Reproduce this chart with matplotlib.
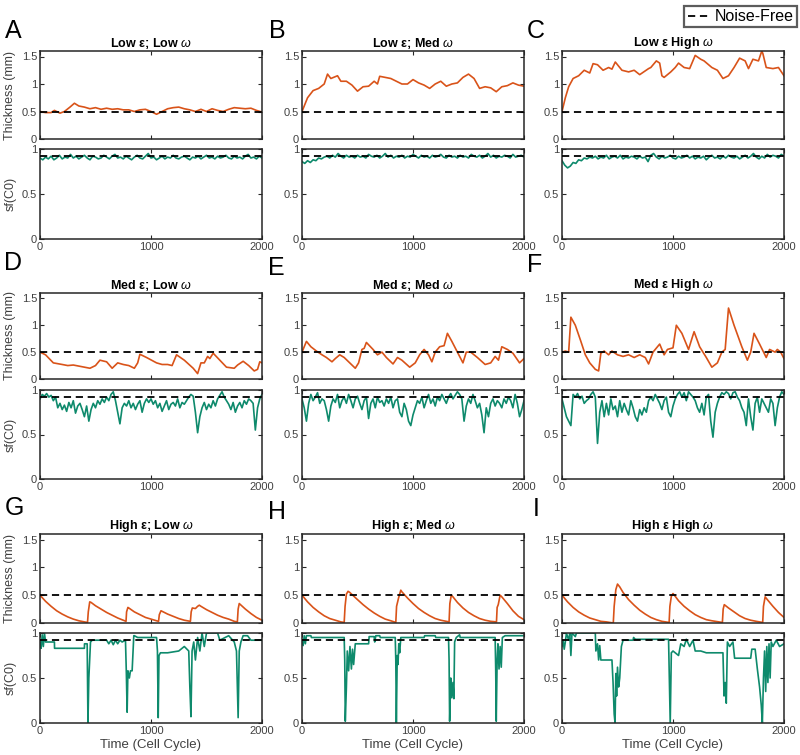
"""
Thickness and sf(C0) traces for nine noise settings.

Each panel: thickness on top, sf(C0) below, noise-free level dashed.
"""
import numpy as np
import matplotlib
matplotlib.use('Agg')
import matplotlib.pyplot as plt

plt.rcParams['font.family'] = ['Liberation Sans', 'DejaVu Sans']
plt.rcParams['mathtext.fontset'] = 'custom'
plt.rcParams['mathtext.it'] = 'Liberation Sans:italic'
plt.rcParams['mathtext.rm'] = 'Liberation Sans'

# ---------------------------------------------------------------- data
letters = ['A', 'B', 'C', 'D', 'E', 'F', 'G', 'H', 'I']
titles = ['Low ε; Low $\\omega$', 'Low ε; Med $\\omega$', 'Low ε High $\\omega$',
          'Med ε; Low $\\omega$', 'Med ε; Med $\\omega$', 'Med ε High $\\omega$',
          'High ε; Low $\\omega$', 'High ε; Med $\\omega$', 'High ε High $\\omega$']
noise_free_thick = 0.5
noise_free_sf = 0.92
thick_ticks = [0, 0.5, 1, 1.5]
thick_ticklabels = ['0', '0.5', '1', '1.5']
sf_ticks = [0, 0.5, 1]
sf_ticklabels = ['0', '0.5', '1']
time_ticks = [0, 1000, 2000]
time_ticklabels = ['0', '1000', '2000']

# thickness traces, (time, thickness mm)
thick_A = [(0, 0.50), (50, 0.48), (100, 0.48), (130, 0.52), (180, 0.47), (220, 0.50),
           (270, 0.58), (310, 0.65), (350, 0.60), (400, 0.58), (450, 0.55), (500, 0.57),
           (550, 0.54), (600, 0.56), (650, 0.54), (700, 0.55), (750, 0.53), (800, 0.53),
           (850, 0.50), (900, 0.53), (950, 0.54), (1000, 0.50), (1050, 0.45), (1100, 0.50),
           (1150, 0.55), (1200, 0.57), (1250, 0.58), (1300, 0.55), (1350, 0.53), (1400, 0.50),
           (1450, 0.54), (1500, 0.50), (1550, 0.55), (1600, 0.52), (1650, 0.50), (1700, 0.54),
           (1750, 0.57), (1800, 0.56), (1850, 0.55), (1900, 0.56), (1950, 0.52), (2000, 0.49)]
thick_B = [(0, 0.50), (50, 0.75), (100, 0.88), (150, 0.92), (200, 1.00), (230, 1.18),
           (260, 1.10), (320, 1.15), (350, 1.05), (400, 1.05), (450, 0.98), (500, 0.87),
           (550, 0.95), (600, 0.96), (650, 1.05), (680, 1.00), (700, 1.14), (750, 1.12),
           (800, 1.10), (850, 1.05), (900, 1.00), (950, 1.00), (1000, 1.08), (1050, 1.02),
           (1100, 0.98), (1150, 0.92), (1200, 1.00), (1250, 1.05), (1300, 0.96), (1350, 1.00),
           (1400, 1.02), (1450, 1.12), (1500, 1.18), (1550, 1.10), (1600, 0.92), (1650, 0.95),
           (1700, 0.93), (1750, 0.86), (1800, 0.95), (1850, 0.97), (1900, 1.02), (1950, 0.98),
           (2000, 0.96)]
thick_C = [(0, 0.50), (30, 0.75), (60, 0.95), (100, 1.10), (150, 1.15), (200, 1.25),
           (250, 1.20), (280, 1.37), (320, 1.35), (370, 1.25), (420, 1.30), (450, 1.27),
           (480, 1.40), (540, 1.25), (600, 1.22), (650, 1.25), (700, 1.17), (780, 1.28),
           (800, 1.30), (850, 1.42), (880, 1.38), (900, 1.15), (920, 1.12), (980, 1.22),
           (1020, 1.30), (1050, 1.38), (1100, 1.30), (1150, 1.28), (1200, 1.52), (1250, 1.45),
           (1280, 1.42), (1350, 1.30), (1400, 1.25), (1450, 1.10), (1500, 1.15), (1550, 1.30),
           (1600, 1.47), (1650, 1.42), (1680, 1.28), (1720, 1.45), (1770, 1.42), (1800, 1.60),
           (1810, 1.55), (1840, 1.30), (1900, 1.28), (1950, 1.30), (2000, 1.15)]
thick_D = [(0, 0.50), (50, 0.45), (120, 0.30), (200, 0.27), (250, 0.25), (300, 0.26),
           (400, 0.22), (450, 0.20), (500, 0.25), (540, 0.35), (600, 0.32), (650, 0.20),
           (700, 0.30), (750, 0.27), (800, 0.25), (850, 0.20), (880, 0.30), (900, 0.46),
           (960, 0.40), (1050, 0.30), (1100, 0.27), (1150, 0.27), (1190, 0.25), (1230, 0.45),
           (1300, 0.35), (1380, 0.20), (1420, 0.10), (1450, 0.30), (1480, 0.30), (1510, 0.42),
           (1530, 0.38), (1560, 0.48), (1620, 0.35), (1680, 0.22), (1750, 0.20), (1780, 0.26),
           (1830, 0.33), (1880, 0.25), (1930, 0.15), (1960, 0.18), (1980, 0.32), (2000, 0.30)]
thick_E = [(0, 0.50), (40, 0.70), (80, 0.60), (130, 0.52), (180, 0.45), (220, 0.40),
           (270, 0.32), (300, 0.38), (340, 0.45), (380, 0.40), (430, 0.30), (480, 0.20),
           (510, 0.30), (540, 0.55), (560, 0.57), (580, 0.68), (640, 0.55), (680, 0.45),
           (720, 0.50), (760, 0.40), (820, 0.28), (860, 0.40), (900, 0.35), (970, 0.22),
           (1020, 0.30), (1060, 0.45), (1100, 0.55), (1140, 0.45), (1170, 0.32), (1200, 0.50),
           (1240, 0.60), (1280, 0.62), (1310, 0.85), (1350, 0.70), (1400, 0.50), (1450, 0.30),
           (1480, 0.50), (1520, 0.50), (1580, 0.40), (1650, 0.27), (1700, 0.30), (1740, 0.42),
           (1770, 0.35), (1800, 0.60), (1850, 0.55), (1900, 0.48), (1960, 0.30), (2000, 0.38)]
thick_F = [(0, 0.50), (30, 0.52), (60, 0.50), (80, 1.15), (120, 1.00), (170, 0.70),
           (210, 0.45), (250, 0.30), (300, 0.18), (330, 0.15), (350, 0.48), (380, 0.52),
           (420, 0.45), (450, 0.52), (500, 0.45), (550, 0.42), (600, 0.45), (650, 0.40),
           (700, 0.45), (750, 0.40), (780, 0.28), (820, 0.50), (860, 0.60), (880, 0.65),
           (920, 0.45), (950, 0.55), (1000, 0.58), (1030, 1.00), (1080, 0.85), (1140, 0.55),
           (1170, 0.75), (1190, 0.88), (1240, 0.60), (1300, 0.40), (1350, 0.22), (1400, 0.30),
           (1440, 0.50), (1470, 0.55), (1500, 1.32), (1550, 1.00), (1620, 0.60), (1670, 0.35),
           (1700, 0.50), (1730, 0.85), (1780, 0.65), (1840, 0.40), (1870, 0.55), (1920, 0.50),
           (1940, 0.55), (1970, 0.50), (2000, 0.38)]
thick_G = [(0, 0.50), (50, 0.39), (100, 0.30), (150, 0.22), (200, 0.16), (250, 0.11),
           (300, 0.07), (350, 0.04), (400, 0.02), (428, 0.01), (435, 0.20), (448, 0.38),
           (460, 0.37), (500, 0.31), (550, 0.25), (600, 0.19), (650, 0.14), (700, 0.09),
           (750, 0.05), (775, 0.03), (780, 0.20), (792, 0.28), (800, 0.27), (850, 0.20),
           (900, 0.15), (950, 0.10), (1000, 0.07), (1050, 0.04), (1068, 0.03), (1075, 0.15),
           (1090, 0.22), (1100, 0.21), (1150, 0.16), (1200, 0.12), (1250, 0.08), (1300, 0.05),
           (1355, 0.03), (1362, 0.20), (1372, 0.27), (1400, 0.26), (1420, 0.30), (1435, 0.32),
           (1450, 0.30), (1500, 0.24), (1550, 0.19), (1600, 0.14), (1650, 0.10), (1700, 0.07),
           (1750, 0.03), (1778, 0.02), (1785, 0.25), (1795, 0.35), (1850, 0.25), (1900, 0.17),
           (1950, 0.10), (2000, 0.05)]
thick_H = [(0, 0.50), (50, 0.38), (100, 0.28), (150, 0.20), (200, 0.13), (250, 0.08),
           (300, 0.05), (350, 0.02), (380, 0.01), (388, 0.30), (400, 0.52), (415, 0.57),
           (430, 0.55), (500, 0.42), (550, 0.33), (600, 0.25), (650, 0.18), (700, 0.12),
           (750, 0.07), (800, 0.04), (845, 0.01), (852, 0.30), (870, 0.45), (890, 0.59),
           (900, 0.56), (950, 0.45), (1000, 0.35), (1050, 0.26), (1100, 0.19), (1150, 0.13),
           (1200, 0.08), (1250, 0.05), (1325, 0.02), (1332, 0.35), (1345, 0.50), (1360, 0.47),
           (1400, 0.37), (1450, 0.27), (1500, 0.19), (1550, 0.13), (1600, 0.08), (1650, 0.05),
           (1700, 0.03), (1752, 0.02), (1758, 0.28), (1768, 0.33), (1785, 0.50), (1800, 0.47),
           (1850, 0.35), (1900, 0.22), (1950, 0.12), (2000, 0.06)]
thick_I = [(0, 0.50), (50, 0.38), (100, 0.28), (150, 0.20), (200, 0.14), (250, 0.09),
           (300, 0.06), (350, 0.03), (400, 0.02), (462, 0.00), (470, 0.30), (485, 0.60),
           (500, 0.70), (520, 0.65), (550, 0.55), (600, 0.42), (650, 0.32), (700, 0.23),
           (750, 0.16), (800, 0.10), (850, 0.06), (900, 0.03), (965, 0.01), (972, 0.30),
           (985, 0.48), (1000, 0.53), (1020, 0.48), (1050, 0.40), (1100, 0.30), (1150, 0.22),
           (1200, 0.15), (1250, 0.10), (1300, 0.06), (1350, 0.04), (1445, 0.01), (1452, 0.25),
           (1462, 0.33), (1500, 0.27), (1550, 0.20), (1600, 0.13), (1650, 0.08), (1700, 0.05),
           (1750, 0.03), (1808, 0.01), (1815, 0.30), (1830, 0.47), (1850, 0.42), (1900, 0.30),
           (1950, 0.19), (2000, 0.10)]

# sf(C0) for low eps, sampled every 25 cycles
sf_time_low = np.arange(0, 2001, 25)
sf_A = [0.90, 0.88, 0.91, 0.89, 0.92, 0.88, 0.90, 0.93, 0.89,
        0.91, 0.90, 0.94, 0.90, 0.92, 0.89, 0.91, 0.93, 0.90,
        0.88, 0.92, 0.91, 0.89, 0.90, 0.93, 0.91, 0.89, 0.92,
        0.94, 0.90, 0.91, 0.89, 0.92, 0.90, 0.88, 0.91, 0.93,
        0.90, 0.89, 0.92, 0.95, 0.90, 0.91, 0.88, 0.90, 0.92,
        0.89, 0.91, 0.90, 0.93, 0.90, 0.89, 0.91, 0.92, 0.90,
        0.88, 0.91, 0.90, 0.92, 0.89, 0.91, 0.93, 0.90, 0.91,
        0.89, 0.92, 0.90, 0.91, 0.93, 0.90, 0.89, 0.92, 0.90,
        0.91, 0.89, 0.92, 0.94, 0.90, 0.91, 0.89, 0.92, 0.90]
sf_B = [0.86, 0.84, 0.87, 0.85, 0.88, 0.87, 0.90, 0.89, 0.91,
        0.92, 0.90, 0.93, 0.91, 0.95, 0.92, 0.90, 0.93, 0.91,
        0.92, 0.90, 0.93, 0.91, 0.92, 0.90, 0.94, 0.92, 0.91,
        0.93, 0.90, 0.92, 0.95, 0.91, 0.93, 0.90, 0.92, 0.91,
        0.93, 0.90, 0.92, 0.91, 0.94, 0.92, 0.90, 0.93, 0.91,
        0.92, 0.90, 0.93, 0.91, 0.92, 0.94, 0.91, 0.90, 0.93,
        0.91, 0.92, 0.90, 0.93, 0.91, 0.92, 0.90, 0.94, 0.92,
        0.91, 0.93, 0.90, 0.92, 0.95, 0.91, 0.93, 0.90, 0.92,
        0.91, 0.93, 0.92, 0.90, 0.94, 0.91, 0.92, 0.93, 0.91]
sf_C = [0.87, 0.82, 0.79, 0.81, 0.85, 0.84, 0.88, 0.87, 0.90,
        0.89, 0.91, 0.90, 0.92, 0.89, 0.91, 0.90, 0.93, 0.89,
        0.91, 0.92, 0.90, 0.93, 0.89, 0.91, 0.90, 0.92, 0.91,
        0.89, 0.92, 0.90, 0.91, 0.86, 0.93, 0.95, 0.91, 0.89,
        0.92, 0.90, 0.91, 0.93, 0.90, 0.89, 0.92, 0.90, 0.91,
        0.93, 0.90, 0.92, 0.89, 0.91, 0.90, 0.92, 0.88, 0.91,
        0.93, 0.90, 0.91, 0.89, 0.92, 0.90, 0.93, 0.91, 0.90,
        0.92, 0.89, 0.91, 0.93, 0.90, 0.92, 0.95, 0.91, 0.89,
        0.92, 0.90, 0.94, 0.91, 0.93, 0.92, 0.90, 0.94, 0.92]

# sf(C0) for medium eps, sampled every 20 cycles
sf_time_med = np.arange(0, 2001, 20)
sf_D = [0.90, 0.95, 0.93, 0.96, 0.92, 0.94, 0.88, 0.92, 0.80, 0.85,
        0.78, 0.83, 0.76, 0.86, 0.80, 0.88, 0.74, 0.82, 0.85, 0.78,
        0.70, 0.82, 0.65, 0.78, 0.85, 0.80, 0.88, 0.84, 0.90, 0.86,
        0.92, 0.88, 0.95, 0.98, 0.88, 0.75, 0.62, 0.80, 0.85, 0.82,
        0.88, 0.80, 0.85, 0.78, 0.84, 0.88, 0.75, 0.85, 0.90, 0.86,
        0.90, 0.84, 0.88, 0.80, 0.85, 0.76, 0.82, 0.88, 0.78, 0.84,
        0.86, 0.82, 0.90, 0.80, 0.86, 0.84, 0.88, 0.92, 0.95, 0.93,
        0.75, 0.52, 0.70, 0.80, 0.86, 0.78, 0.84, 0.80, 0.88, 0.82,
        0.90, 0.94, 0.98, 0.92, 0.88, 0.84, 0.78, 0.86, 0.75, 0.82,
        0.86, 0.80, 0.88, 0.84, 0.90, 0.88, 0.85, 0.55, 0.80, 0.90,
        0.95]
sf_E = [0.90, 0.80, 0.65, 0.85, 0.95, 0.88, 0.92, 0.97, 0.85, 0.90,
        0.88, 0.78, 0.65, 0.82, 0.90, 0.86, 0.95, 0.80, 0.88, 0.92,
        0.85, 0.95, 0.88, 0.80, 0.90, 0.93, 0.85, 0.78, 0.88, 0.92,
        0.68, 0.85, 0.90, 0.80, 0.92, 0.86, 0.88, 0.82, 0.90, 0.85,
        0.92, 0.80, 0.88, 0.90, 0.75, 0.70, 0.85, 0.78, 0.65, 0.60,
        0.72, 0.80, 0.88, 0.85, 0.92, 0.80, 0.88, 0.95, 0.85, 0.90,
        0.82, 0.92, 0.88, 0.95, 0.90, 0.85, 0.92, 0.96, 0.90, 0.94,
        0.98, 0.95, 0.90, 0.65, 0.82, 0.90, 0.85, 0.95, 0.88, 0.80,
        0.85, 0.72, 0.52, 0.80, 0.70, 0.85, 0.90, 0.82, 0.88, 0.85,
        0.80, 0.90, 0.85, 0.92, 0.88, 0.80, 0.95, 0.85, 0.70, 0.78,
        0.88]
sf_F = [0.90, 0.80, 0.70, 0.65, 0.60, 0.95, 0.92, 0.96, 0.90, 0.93,
        0.85, 0.88, 0.90, 0.95, 0.98, 0.92, 0.40, 0.75, 0.88, 0.70,
        0.85, 0.72, 0.90, 0.78, 0.82, 0.70, 0.88, 0.75, 0.85, 0.78,
        0.72, 0.88, 0.80, 0.70, 0.65, 0.78, 0.72, 0.80, 0.75, 0.88,
        0.92, 0.88, 0.95, 0.90, 0.85, 0.78, 0.88, 0.92, 0.75, 0.70,
        0.82, 0.90, 0.95, 0.98, 0.92, 0.97, 0.88, 0.98, 0.95, 0.92,
        0.88, 0.80, 0.75, 0.85, 0.72, 0.92, 0.95, 0.65, 0.47, 0.75,
        0.85, 0.92, 0.97, 0.95, 0.98, 0.96, 0.90, 0.97, 0.98, 0.92,
        0.88, 0.80, 0.75, 0.60, 0.90, 0.70, 0.55, 0.85, 0.92, 0.75,
        0.90, 0.85, 0.80, 0.75, 0.90, 0.85, 0.60, 0.80, 0.92, 0.98,
        0.95]

# sf(C0) for high eps, (time, sf)
sf_G = [(0, 0.90), (10, 0.83), (20, 0.98), (30, 0.85), (40, 1.00), (50, 0.90),
        (130, 0.90), (131, 0.83), (400, 0.83), (401, 0.88), (425, 0.88), (432, 0.00),
        (440, 0.50), (455, 0.90), (470, 0.92), (600, 0.92), (620, 0.88), (640, 0.92),
        (660, 0.87), (680, 0.92), (700, 0.88), (720, 0.92), (740, 0.90), (770, 0.92),
        (778, 0.55), (785, 0.12), (792, 0.58), (805, 0.50), (815, 0.58), (830, 0.58),
        (845, 0.97), (850, 0.97), (880, 0.95), (1050, 0.95), (1058, 0.80), (1065, 0.06),
        (1072, 0.75), (1085, 0.78), (1150, 0.78), (1250, 0.80), (1300, 0.85), (1340, 0.80),
        (1350, 0.40), (1360, 0.07), (1370, 0.80), (1385, 0.90), (1400, 0.70), (1420, 0.95),
        (1440, 0.80), (1460, 1.00), (1480, 0.85), (1500, 1.00), (1600, 1.00), (1620, 0.92),
        (1700, 0.97), (1750, 0.90), (1770, 0.80), (1785, 0.06), (1795, 0.80), (1810, 0.90),
        (1830, 0.97), (1870, 0.97), (1900, 0.92), (2000, 0.92)]
sf_H = [(0, 0.92), (10, 0.86), (20, 0.97), (30, 0.88), (40, 0.97), (80, 0.97),
        (85, 0.95), (200, 0.95), (380, 0.95), (385, 0.70), (390, 0.02), (400, 0.40),
        (408, 0.80), (420, 0.58), (432, 0.85), (445, 0.60), (455, 0.82), (465, 0.65),
        (480, 0.88), (600, 0.88), (605, 0.96), (650, 0.96), (655, 0.90), (665, 0.97),
        (700, 0.97), (705, 0.95), (840, 0.95), (845, 0.70), (850, 0.00), (858, 0.75),
        (865, 0.65), (872, 0.88), (880, 0.78), (890, 0.95), (1100, 0.95), (1105, 0.97),
        (1200, 0.97), (1205, 0.95), (1320, 0.95), (1325, 0.70), (1330, 0.02), (1340, 0.50),
        (1350, 0.28), (1360, 0.45), (1368, 0.27), (1375, 0.90), (1390, 0.95), (1420, 0.98),
        (1425, 0.95), (1740, 0.95), (1745, 0.60), (1750, 0.02), (1758, 0.70), (1765, 0.88),
        (1775, 0.60), (1785, 0.85), (1795, 0.62), (1805, 0.95), (1830, 0.97), (2000, 0.97)]
sf_I = [(0, 0.85), (10, 0.92), (20, 0.82), (30, 0.90), (40, 1.00), (60, 0.92),
        (70, 1.00), (80, 0.75), (90, 1.00), (120, 0.96), (130, 1.00), (300, 1.00),
        (305, 0.80), (320, 0.88), (330, 0.70), (340, 0.86), (350, 0.70), (450, 0.70),
        (460, 0.45), (470, 0.10), (478, 0.00), (485, 0.55), (492, 0.30), (500, 0.62),
        (510, 0.40), (520, 0.50), (535, 0.85), (550, 0.92), (640, 0.92), (645, 0.95),
        (660, 0.93), (960, 0.93), (975, 0.00), (985, 0.78), (1000, 0.80), (1050, 0.75),
        (1070, 0.88), (1100, 0.85), (1120, 0.93), (1150, 0.85), (1180, 0.92), (1200, 0.80),
        (1250, 0.80), (1300, 0.78), (1450, 0.78), (1460, 0.30), (1470, 0.45), (1480, 0.22),
        (1490, 0.90), (1510, 0.85), (1540, 0.90), (1555, 0.72), (1700, 0.72), (1710, 0.82),
        (1740, 0.82), (1760, 0.60), (1780, 0.40), (1795, 0.20), (1805, 0.00), (1815, 0.50),
        (1825, 0.80), (1835, 0.35), (1845, 0.85), (1855, 0.45), (1865, 0.88), (1875, 0.50),
        (1885, 0.90), (1900, 0.85), (1930, 0.92), (1960, 0.85), (2000, 0.88)]

thick_all = [thick_A, thick_B, thick_C, thick_D, thick_E, thick_F, thick_G, thick_H, thick_I]
sf_all = [(sf_time_low, sf_A), (sf_time_low, sf_B), (sf_time_low, sf_C),
          (sf_time_med, sf_D), (sf_time_med, sf_E), (sf_time_med, sf_F),
          sf_G, sf_H, sf_I]

# ---------------------------------------------------------------- layout (pixels)
W, H = 800, 755
col_left = [40, 302, 562]
col_width = 222
row_top = [(51, 139), (293, 379), (534, 623)]
row_bot = [(149, 239), (390, 479), (633, 723)]
letter_xy = [(5, 19), (269, 19), (527, 19),
             (4, 251), (268, 256), (527, 253),
             (5, 496), (268, 500), (533, 497)]

orange = '#D95319'
green = '#0E8A6C'
grey = '#404040'
frame = '#262626'


def rect(col, rows):
    y0, y1 = rows
    return [col_left[col] / W, 1 - y1 / H, col_width / W, (y1 - y0) / H]


def style_axes(ax):
    for s in ax.spines.values():
        s.set_color(frame)
        s.set_linewidth(1.1)
    ax.tick_params(direction='in', length=3, width=0.8, top=True, right=True,
                   colors=frame, labelcolor=grey, labelsize=8, pad=2)
    ax.set_xlim(0, 2000)
    ax.set_xticks(time_ticks)


fig = plt.figure(figsize=(W / 100, H / 100), dpi=100)
dash = (0, (4, 2.6))

for k in range(9):
    r, c = divmod(k, 3)
    ax_t = fig.add_axes(rect(c, row_top[r]))
    ax_s = fig.add_axes(rect(c, row_bot[r]))

    tt = np.array(thick_all[k])
    ax_t.plot([0, 2000], [noise_free_thick] * 2, color='k', lw=1.3, ls=dash, zorder=3)
    ax_t.plot(tt[:, 0], tt[:, 1], color=orange, lw=1.2, zorder=2)
    if k < 6:
        st, sv = sf_all[k]
    else:
        arr = np.array(sf_all[k])
        st, sv = arr[:, 0], arr[:, 1]
    ax_s.plot(st, sv, color=green, lw=1.2, zorder=2)
    ax_s.plot([0, 2000], [noise_free_sf] * 2, color='k', lw=1.3, ls=dash, zorder=3)

    style_axes(ax_t)
    style_axes(ax_s)
    ax_t.set_ylim(0, 1.6)
    ax_t.set_yticks(thick_ticks)
    ax_t.set_yticklabels(thick_ticklabels)
    ax_t.set_xticklabels([])
    ax_s.set_ylim(0, 1)
    ax_s.set_yticks(sf_ticks)
    ax_s.set_yticklabels(sf_ticklabels)
    ax_s.set_xticklabels(time_ticklabels)

    ax_t.set_title(titles[k], fontsize=9, fontweight='bold', pad=2)
    if c == 0:
        ax_t.set_ylabel('Thickness (mm)', fontsize=9, color=grey, labelpad=4)
        ax_s.set_ylabel('sf(C0)', fontsize=9, color=grey, labelpad=4)
    if r == 2:
        ax_s.set_xlabel('Time (Cell Cycle)', fontsize=9.5, color=grey, labelpad=2)

    lx, ly = letter_xy[k]
    fig.text(lx / W, 1 - ly / H, letters[k], fontsize=18, ha='left', va='top')

# legend
h, = plt.plot([], [], color='k', lw=1.3, ls=dash)
leg = fig.legend([h], ['Noise-Free'], loc='upper right',
                 bbox_to_anchor=(797 / W, 1 - 6 / H), fontsize=11.5,
                 fancybox=False, frameon=True, handlelength=1.4, handletextpad=0.3,
                 borderpad=0.2, borderaxespad=0.0)
leg.get_frame().set_edgecolor('#333333')
leg.get_frame().set_linewidth(1.6)

fig.savefig('out.png', dpi=100)
